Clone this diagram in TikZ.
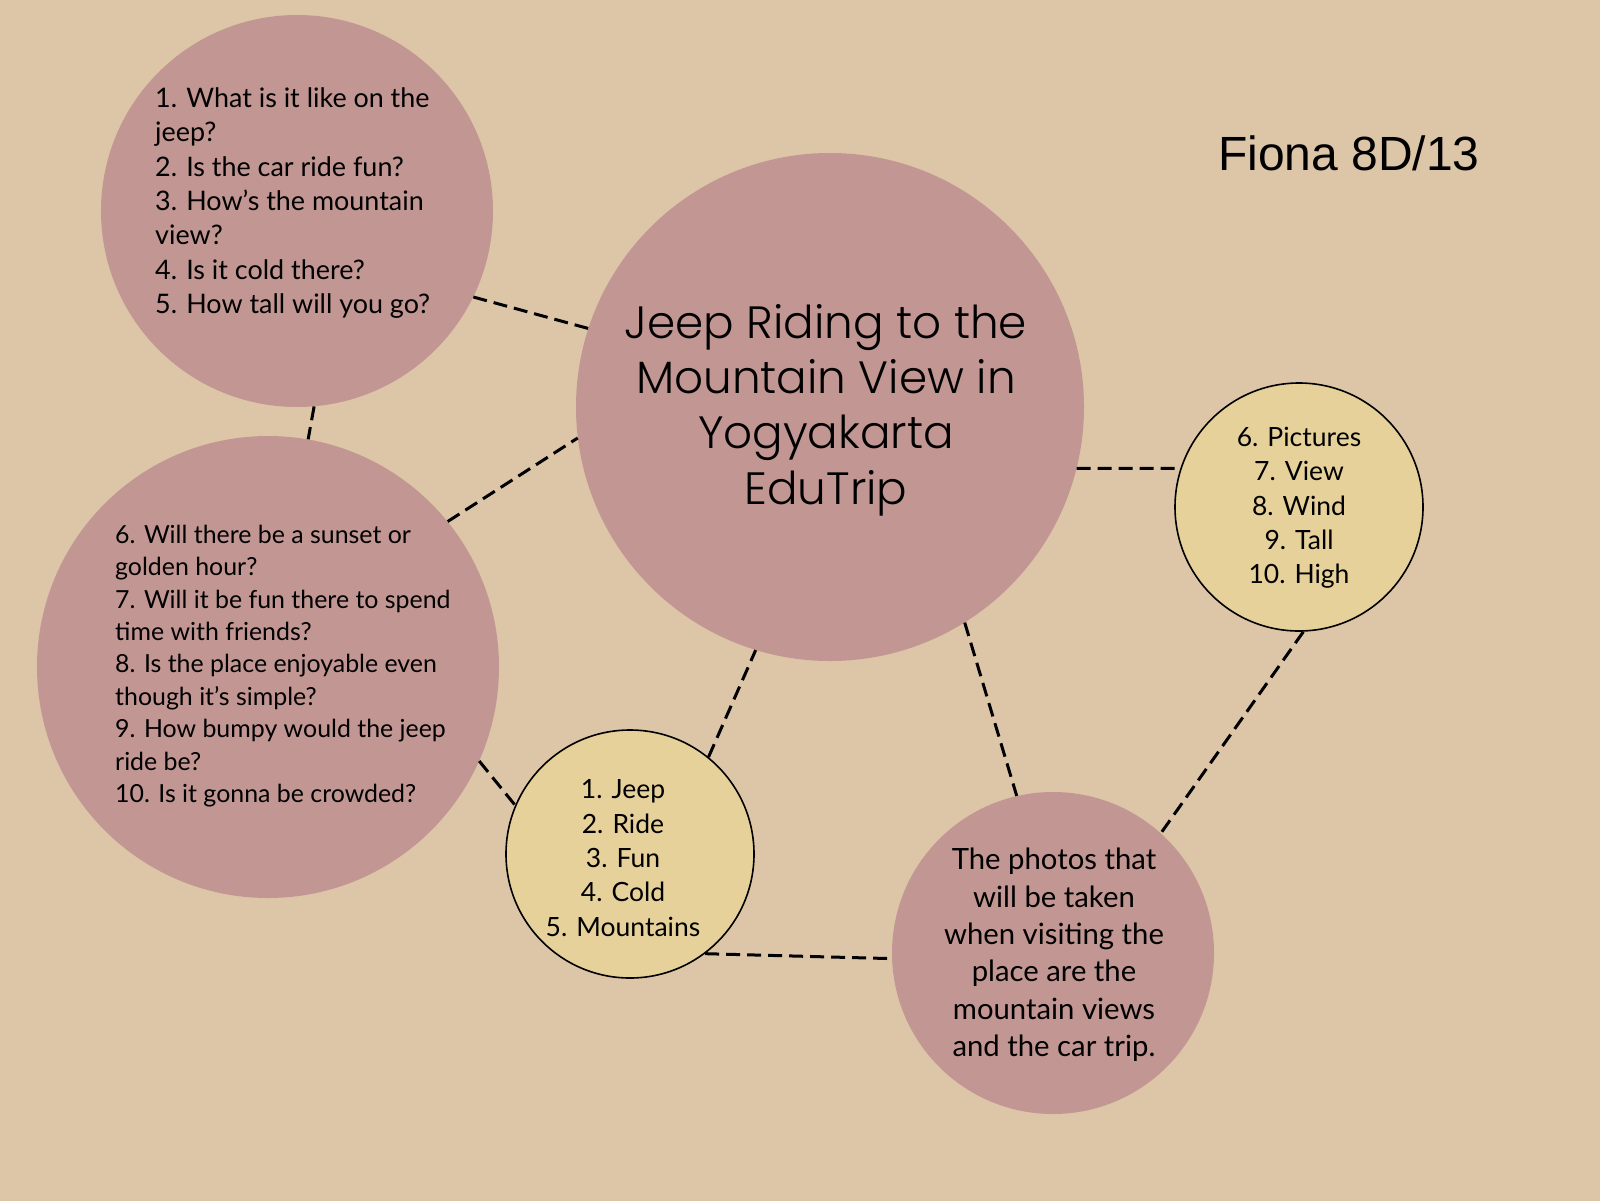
\documentclass[tikz,border=0pt]{standalone}
\usepackage{fontspec}
\setmainfont{Lato}
\newfontfamily\titlefont{Poppins Light}
\newfontfamily\namefont{Liberation Sans}
\definecolor{paper}{HTML}{DCC6A7}
\definecolor{rose}{HTML}{C29692}
\definecolor{sand}{HTML}{E6D19A}
\begin{document}
\begin{tikzpicture}[x=1pt,y=-1pt,
  bubble/.style={circle,fill=rose,draw=none,inner sep=0pt},
  keyword/.style={circle,fill=sand,draw=black,line width=1.6pt,inner sep=0pt},
  link/.style={draw=black,line width=3pt,dash pattern=on 14pt off 7pt},
  txt/.style={inner sep=0pt,text=black}]
% page frame and paper background
\useasboundingbox (0,0) rectangle (1600,1200);
\fill[paper] (-6,-6) rectangle (1606,1206);

% circles
\node[bubble,minimum size=508pt] (C) at (830,407) {};
\node[bubble,minimum size=392pt] (TL) at (297,211) {};
\node[bubble,minimum size=462pt] (L) at (268,667) {};
\node[keyword,minimum size=248pt] (J) at (630,854) {};
\node[keyword,minimum size=248pt] (R) at (1299,507) {};
\node[bubble,minimum size=322pt] (BR) at (1053,953) {};

% dashed connectors
\draw[link] (TL.-26) -- (C.162);
\draw[link] (TL.-85) -- (L.80);
\draw[link] (L.39) -- (C.187);
\draw[link] (L.-24) -- (J.157);
\draw[link] (J.51) -- (C.-107);
\draw[link] (J.-53) -- (BR.182);
\draw[link] (C.-58) -- (BR.103);
\draw[link] (C.-14) -- (R.162);
\draw[link] (R.-88) -- (BR.48);

% texts
\node[txt,align=center,font=\titlefont\fontsize{45.3}{55.4}\selectfont] (title) at (826,410)
  {Jeep Riding to the\\Mountain View in\\Yogyakarta\\EduTrip};
\node[txt,align=left,font=\fontsize{26.9}{34.4}\selectfont,anchor=west] (q1) at (155,203)
  {1. What is it like on the\\jeep?\\2. Is the car ride fun?\\3. How’s the mountain\\view?\\4. Is it cold there?\\5. How tall will you go?};
\node[txt,align=left,font=\fontsize{24.9}{32.4}\selectfont,anchor=west] (q2) at (115,666)
  {6. Will there be a sunset or\\golden hour?\\7. Will it be fun there to spend\\time with friends?\\8. Is the place enjoyable even\\though it’s simple?\\9. How bumpy would the jeep\\ride be?\\10. Is it gonna be crowded?};
\node[txt,align=center,font=\fontsize{26.5}{34.3}\selectfont] (k1) at (623,858)
  {1. Jeep\\2. Ride\\3. Fun\\4. Cold\\5. Mountains};
\node[txt,align=center,font=\fontsize{26.5}{34.3}\selectfont] (k2) at (1299,508)
  {6. Pictures\\7. View\\8. Wind\\9. Tall\\10. High};
\node[txt,align=center,font=\fontsize{29.3}{37.4}\selectfont] (note) at (1054,955)
  {The photos that\\will be taken\\when visiting the\\place are the\\mountain views\\and the car trip.};
\node[txt,font=\namefont\fontsize{48}{54}\selectfont] (name) at (1349,153) {Fiona 8D/13};
\end{tikzpicture}
\end{document}
